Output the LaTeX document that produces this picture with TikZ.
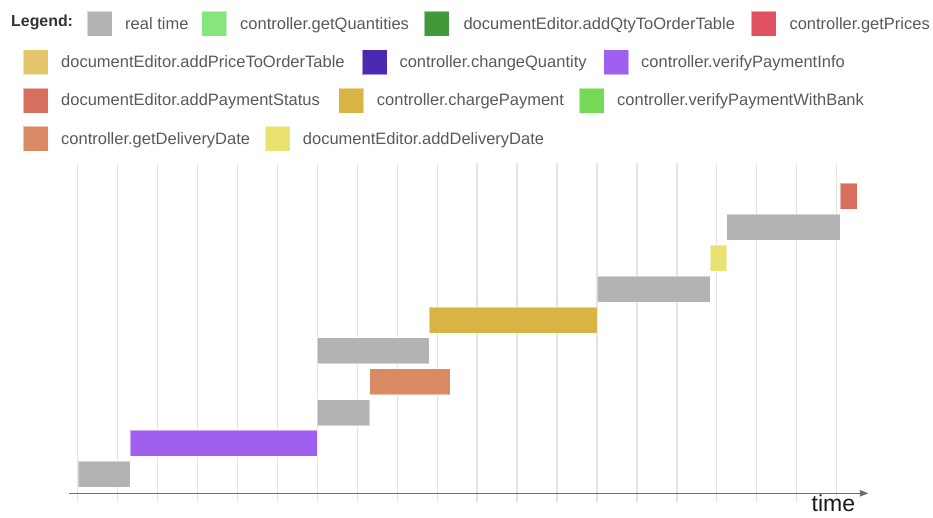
\documentclass[tikz,border=0pt]{standalone}
\usepackage{fontspec}
\setmainfont{Liberation Sans}
\usetikzlibrary{arrows.meta}
\definecolor{cGray}{HTML}{B3B3B3}
\definecolor{cLGreen}{HTML}{86E57F}
\definecolor{cDGreen}{HTML}{43993A}
\definecolor{cRed}{HTML}{E05263}
\definecolor{cPriceTab}{HTML}{E5C76B}
\definecolor{cIndigo}{HTML}{4A2AB3}
\definecolor{cPurple}{HTML}{A05FEF}
\definecolor{cPayStat}{HTML}{D76F5E}
\definecolor{cCharge}{HTML}{D8B442}
\definecolor{cBank}{HTML}{74D955}
\definecolor{cDeliv}{HTML}{D98A62}
\definecolor{cAddDeliv}{HTML}{E9E271}
\definecolor{cText}{HTML}{595959}
\definecolor{cGrid}{HTML}{E4E4E4}
\definecolor{cAxis}{HTML}{6E6E6E}
\begin{document}
\begin{tikzpicture}[x=1pt,y=-1pt,
  swatch/.style={draw=white,draw opacity=0.5,line width=0.8pt,minimum width=25pt,minimum height=25pt,inner sep=0pt,anchor=north west},
  legtext/.style={anchor=base west,inner sep=0pt,text=cText,font=\fontsize{16.5pt}{18pt}\selectfont},
  bar/.style={draw=white,draw opacity=0.45,line width=0.8pt,minimum height=26pt,inner sep=0pt,anchor=north west},
  gridline/.style={cGrid,line width=1.3pt},
  axisline/.style={cAxis,line width=1.1pt,-{Triangle[length=8.5pt,width=6.5pt]}}
]
\useasboundingbox (0,0) rectangle (933,517);
% legend
\node[anchor=base west,inner sep=0pt,text=black!80,font=\fontsize{15.9pt}{18pt}\selectfont\bfseries] (leg) at (11,26.5) {Legend:};
% row 1
\node[swatch,fill=cGray] (s1) at (86.7,10.7) {};
\node[legtext] (t1) at (125,29.3) {real time};
\node[swatch,fill=cLGreen] (s2) at (201.3,10.7) {};
\node[legtext] (t2) at (240,29.3) {controller.getQuantities};
\node[swatch,fill=cDGreen] (s3) at (424,10.7) {};
\node[legtext] (t3) at (463.3,29.3) {documentEditor.addQtyToOrderTable};
\node[swatch,fill=cRed] (s4) at (751,10.7) {};
\node[legtext] (t4) at (789.3,29.3) {controller.getPrices};
% row 2
\node[swatch,fill=cPriceTab] (s5) at (22.7,49.3) {};
\node[legtext] (t5) at (61,67.6) {documentEditor.addPriceToOrderTable};
\node[swatch,fill=cIndigo] (s6) at (361.7,49.3) {};
\node[legtext] (t6) at (399.3,67.6) {controller.changeQuantity};
\node[swatch,fill=cPurple] (s7) at (603.3,49.3) {};
\node[legtext] (t7) at (641,67.6) {controller.verifyPaymentInfo};
% row 3
\node[swatch,fill=cPayStat] (s8) at (22.7,87.5) {};
\node[legtext] (t8) at (61,105.9) {documentEditor.addPaymentStatus};
\node[swatch,fill=cCharge] (s9) at (338.3,87.5) {};
\node[legtext] (t9) at (376.7,105.9) {controller.chargePayment};
\node[swatch,fill=cBank] (s10) at (578.7,87.5) {};
\node[legtext] (t10) at (617,105.9) {controller.verifyPaymentWithBank};
% row 4
\node[swatch,fill=cDeliv] (s11) at (22.7,125.8) {};
\node[legtext] (t11) at (61,144.2) {controller.getDeliveryDate};
\node[swatch,fill=cAddDeliv] (s12) at (265,125.8) {};
\node[legtext] (t12) at (302.7,144.2) {documentEditor.addDeliveryDate};
% grid
\foreach \k in {0,...,19}{
  \draw[gridline] ({77.6+39.95*\k},163) -- ({77.6+39.95*\k},502);
}
% axis
\coordinate (axstart) at (69.3,493.3);
\coordinate (axend) at (868.3,493.3);
\draw[axisline] (axstart) -- (axend);
\node[anchor=base west,inner sep=0pt,text=black!90,font=\fontsize{23pt}{26pt}\selectfont] (timelbl) at (811.5,511.5) {time};
% bars
\node[bar,fill=cGray,minimum width=52pt] (b1) at (77.7,461) {};
\node[bar,fill=cPurple,minimum width=187pt] (b2) at (129.7,430) {};
\node[bar,fill=cGray,minimum width=52.6pt] (b3) at (316.7,399.2) {};
\node[bar,fill=cDeliv,minimum width=80.4pt] (b4) at (369.3,368.3) {};
\node[bar,fill=cGray,minimum width=112.3pt] (b5) at (316.7,337.4) {};
\node[bar,fill=cCharge,minimum width=168pt] (b6) at (429,306.5) {};
\node[bar,fill=cGray,minimum width=113pt] (b7) at (597,275.6) {};
\node[bar,fill=cAddDeliv,minimum width=16.3pt] (b8) at (710,244.8) {};
\node[bar,fill=cGray,minimum width=113.4pt] (b9) at (726.3,214) {};
\node[bar,fill=cPayStat,minimum width=17.3pt] (b10) at (839.7,183) {};
\end{tikzpicture}
\end{document}
